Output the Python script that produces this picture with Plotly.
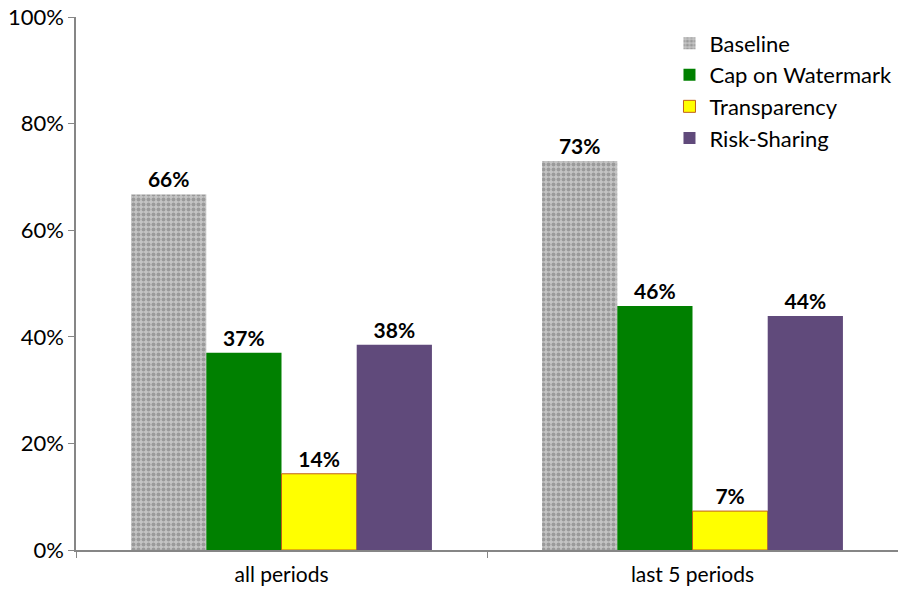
import plotly.graph_objects as go

categories = ["all periods", "last 5 periods"]
series_names = ["Baseline", "Cap on Watermark", "Transparency", "Risk-Sharing"]
baseline = [0.667, 0.73]
cap_on_watermark = [0.37, 0.458]
transparency = [0.143, 0.073]
risk_sharing = [0.385, 0.439]
baseline_labels = ["66%", "73%"]
cap_labels = ["37%", "46%"]
transparency_labels = ["14%", "7%"]
risk_labels = ["38%", "44%"]
y_ticks = [0, 0.2, 0.4, 0.6, 0.8, 1.0]
y_tick_labels = ["0%", "20%", "40%", "60%", "80%", "100%"]

FONT = "Lato, 'Open Sans', sans-serif"

fig = go.Figure()
specs = [
    (series_names[0], baseline, baseline_labels,
     dict(color="#b0b0b0", line=dict(width=0),
          pattern=dict(shape=".", fgcolor="#707070", bgcolor="#c4c4c4", size=5, solidity=0.5))),
    (series_names[1], cap_on_watermark, cap_labels, dict(color="#008000", line=dict(width=0))),
    (series_names[2], transparency, transparency_labels, dict(color="#ffff00", line=dict(width=1, color="#c0601a"))),
    (series_names[3], risk_sharing, risk_labels, dict(color="#604a7b", line=dict(width=0))),
]
for name, vals, labels, marker in specs:
    fig.add_trace(go.Bar(
        name=name, x=categories, y=vals, text=labels,
        textposition="outside", cliponaxis=False,
        textfont=dict(family=FONT, size=21, color="black", weight="bold"),
        marker=marker,
    ))

fig.update_layout(
    width=898, height=592,
    margin=dict(l=76, r=0, t=17, b=42),
    paper_bgcolor="white", plot_bgcolor="white",
    barmode="group", bargap=0.268, bargroupgap=0,
    font=dict(family=FONT, size=21, color="black"),
    legend=dict(x=0.722, y=0.99, xanchor="left", yanchor="top",
                font=dict(family=FONT, size=22, color="black"),
                bgcolor="rgba(0,0,0,0)", tracegroupgap=0, itemwidth=30),
)
fig.update_xaxes(
    showline=True, linecolor="#868686", linewidth=1.5,
    ticks="outside", tickson="boundaries", ticklen=6, tickcolor="#868686",
    showgrid=False, tickfont=dict(size=21), ticklabelstandoff=5,
)
fig.update_yaxes(
    range=[0, 1.0], tickvals=y_ticks, ticktext=y_tick_labels,
    showline=True, linecolor="#868686", linewidth=1.5,
    ticks="outside", ticklen=6, tickcolor="#868686",
    showgrid=False, zeroline=False, tickfont=dict(size=22),
)

fig.write_html("out.html")
